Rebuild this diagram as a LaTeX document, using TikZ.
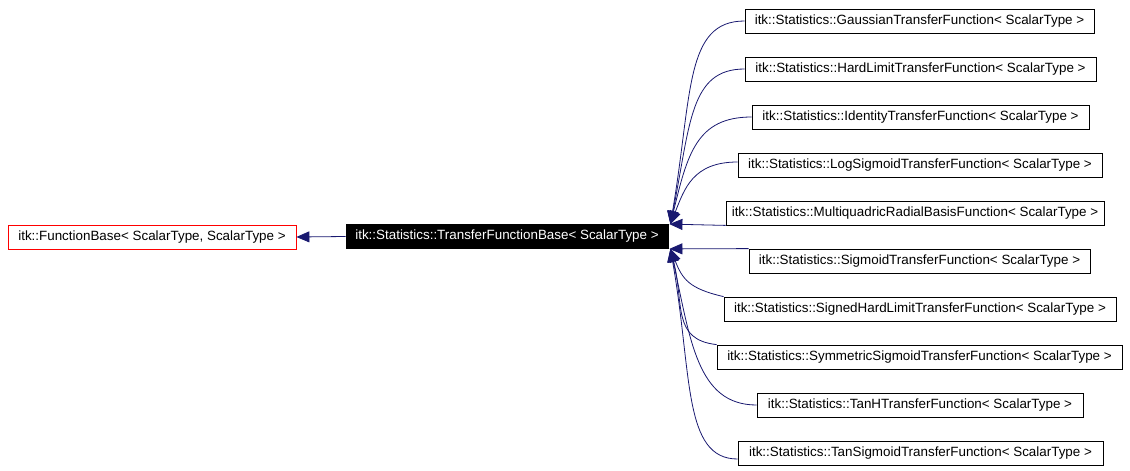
\documentclass[tikz,border=0pt]{standalone}
\usepackage{fontspec}
\setmainfont{Liberation Sans}
\usepackage{tikz}
\usetikzlibrary{positioning,arrows.meta}
\definecolor{edgeblue}{RGB}{25,25,112}

\begin{document}
\begin{tikzpicture}[x=1pt,y=-1pt,
    font=\fontsize{13.4}{15}\selectfont,
    cls/.style={draw=black,line width=0.8pt,minimum height=24pt,inner sep=0pt},
    inh/.style={draw=edgeblue,line width=0.8pt,-{Triangle[length=13pt,width=11pt]},fill=none}]
  \useasboundingbox (0,0) rectangle (1130,471);
  % base classes
  \node[cls,draw=red,minimum width=288pt] (base) at (152,237) {itk::FunctionBase< ScalarType, ScalarType >};
  \node[cls,fill=black,text=white,minimum width=322pt] (tfb) at (507,236.5) {itk::Statistics::TransferFunctionBase< ScalarType >};
  \draw[inh] (tfb.west) -- (base.east);
  % derived classes
  \node[cls,minimum width=349pt] (gauss) at (919.5,21) {itk::Statistics::GaussianTransferFunction< ScalarType >};
  \node[cls,minimum width=351pt] (hard) at (920.5,69) {itk::Statistics::HardLimitTransferFunction< ScalarType >};
  \node[cls,minimum width=337pt] (ident) at (920.5,117) {itk::Statistics::IdentityTransferFunction< ScalarType >};
  \node[cls,minimum width=364pt] (logsig) at (920,165) {itk::Statistics::LogSigmoidTransferFunction< ScalarType >};
  \node[cls,minimum width=378pt] (multi) at (915,213) {itk::Statistics::MultiquadricRadialBasisFunction< ScalarType >};
  \node[cls,minimum width=341pt] (sigm) at (919.5,261) {itk::Statistics::SigmoidTransferFunction< ScalarType >};
  \node[cls,minimum width=392pt] (signed) at (920,309) {itk::Statistics::SignedHardLimitTransferFunction< ScalarType >};
  \node[cls,minimum width=405pt] (symm) at (919.5,357) {itk::Statistics::SymmetricSigmoidTransferFunction< ScalarType >};
  \node[cls,minimum width=326pt] (tanh) at (920,405) {itk::Statistics::TanHTransferFunction< ScalarType >};
  \node[cls,minimum width=365pt] (tansig) at (920.5,453) {itk::Statistics::TanSigmoidTransferFunction< ScalarType >};
  % inheritance edges
  \draw[inh] (gauss.west) .. controls +(-60,0) and +(22,-130) .. ([xshift=2pt]tfb.north east);
  \draw[inh] (hard.west) .. controls +(-55,0) and +(20,-100) .. ([xshift=2pt]tfb.north east);
  \draw[inh] (ident.west) .. controls +(-55,0) and +(17,-70) .. ([xshift=2pt]tfb.north east);
  \draw[inh] ([yshift=3pt]logsig.west) .. controls +(-45,0) and +(14,-35) .. ([xshift=2pt]tfb.north east);
  \draw[inh] (multi.south west) -- ([xshift=1pt]tfb.north east);
  \draw[inh] (sigm.north west) -- ([xshift=1pt]tfb.south east);
  \draw[inh] (signed.north west) .. controls +(-35,-8) and +(12,30) .. ([xshift=2pt]tfb.south east);
  \draw[inh] (symm.north west) .. controls +(-45,-5) and +(14,55) .. ([xshift=2pt]tfb.south east);
  \draw[inh] (tanh.west) .. controls +(-60,0) and +(20,90) .. ([xshift=2pt]tfb.south east);
  \draw[inh] ([yshift=-6pt]tansig.west) .. controls +(-55,0) and +(22,125) .. ([xshift=2pt]tfb.south east);
\end{tikzpicture}
\end{document}
